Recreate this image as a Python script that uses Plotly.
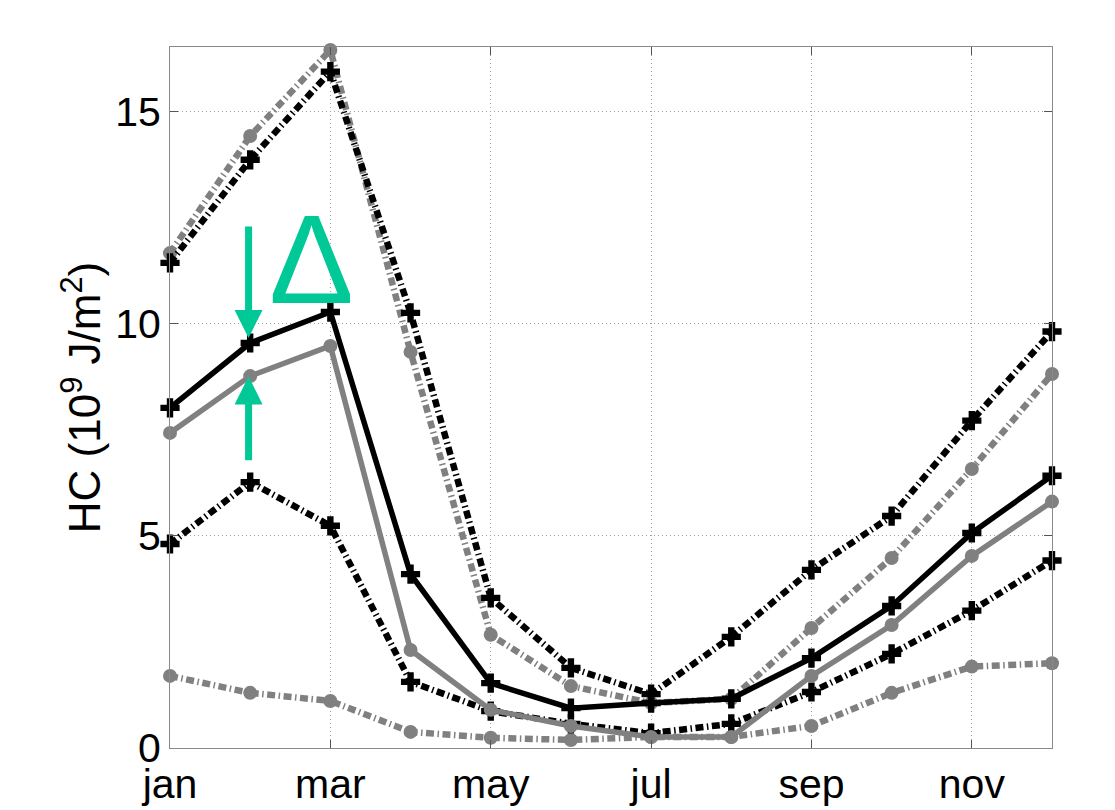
import plotly.graph_objects as go

months = list(range(1, 13))
tick_vals = [1, 3, 5, 7, 9, 11]
tick_text = ["jan", "mar", "may", "jul", "sep", "nov"]

black_mean = [8.02, 9.55, 10.28, 4.10, 1.53, 0.94, 1.06, 1.16, 2.12, 3.35, 5.07, 6.42]
gray_mean = [7.43, 8.77, 9.48, 2.31, 0.90, 0.52, 0.26, 0.26, 1.70, 2.90, 4.53, 5.81]
black_upper = [11.44, 13.87, 15.95, 10.26, 3.54, 1.89, 1.27, 2.62, 4.20, 5.47, 7.72, 9.82]
gray_upper = [11.67, 14.43, 16.46, 9.34, 2.67, 1.46, 1.06, 1.16, 2.83, 4.48, 6.58, 8.82]
black_lower = [4.81, 6.27, 5.24, 1.56, 0.87, 0.57, 0.35, 0.57, 1.32, 2.22, 3.24, 4.42]
gray_lower = [1.70, 1.30, 1.11, 0.38, 0.24, 0.19, 0.26, 0.26, 0.52, 1.30, 1.92, 2.00]

GRAY = "#808080"
BLACK = "#000000"
GREEN = "#00c896"
DASHDOT = "8px,3.5px,1.5px,3.5px"
FONT = "Liberation Sans"

fig = go.Figure()

def add(y, color, dash, symbol, size, width):
    fig.add_trace(go.Scatter(
        x=months, y=y, mode="lines+markers",
        line=dict(color=color, width=width, dash=dash),
        marker=dict(color=color, symbol=symbol, size=size, line=dict(width=0)),
        showlegend=False, cliponaxis=False,
    ))

add(gray_lower, GRAY, DASHDOT, "circle", 14, 6.5)
add(black_lower, BLACK, DASHDOT, "cross", 16, 6.5)
add(gray_upper, GRAY, DASHDOT, "circle", 14, 6.5)
add(black_upper, BLACK, DASHDOT, "cross", 16, 6.5)
add(gray_mean, GRAY, "solid", "circle", 14, 5.5)
add(black_mean, BLACK, "solid", "cross", 16, 5.5)

# annotations: arrows and delta
fig.add_annotation(x=1.98, y=9.67, ax=1.98, ay=12.33, xref="x", yref="y",
                   axref="x", ayref="y", text="", showarrow=True,
                   arrowhead=2, arrowwidth=7, arrowsize=0.8, arrowcolor=GREEN)
fig.add_annotation(x=1.98, y=8.76, ax=1.98, ay=6.75, xref="x", yref="y",
                   axref="x", ayref="y", text="", showarrow=True,
                   arrowhead=2, arrowwidth=7, arrowsize=0.8, arrowcolor=GREEN)
fig.add_annotation(x=2.77, y=11.52, xref="x", yref="y", text="Δ", showarrow=False,
                   font=dict(family=FONT, size=127, color=GREEN),
                   xanchor="center", yanchor="middle")

axis_common = dict(
    showline=True, linecolor="#8a8a8a", linewidth=1, mirror="ticks",
    ticks="inside", ticklen=8, tickcolor="#555555", tickwidth=1,
    showgrid=True, gridcolor="#a0a0a0", gridwidth=1, griddash="1px,3px",
    zeroline=False,
    tickfont=dict(family=FONT, size=41, color="black"),
)

fig.update_xaxes(range=[1, 12], tickvals=tick_vals, ticktext=tick_text,
                 ticklabelstandoff=0, **axis_common)
fig.update_yaxes(range=[0, 16.53], tickvals=[0, 5, 10, 15],
                 title=dict(text="HC (10<sup>9</sup> J/m<sup>2</sup>)",
                            font=dict(family=FONT, size=44, color="black"),
                            standoff=0),
                 **axis_common)

fig.update_layout(
    width=1115, height=810,
    margin=dict(l=170, r=63, t=47, b=62, autoexpand=False),
    paper_bgcolor="white", plot_bgcolor="white",
)

fig.write_html("out.html")
